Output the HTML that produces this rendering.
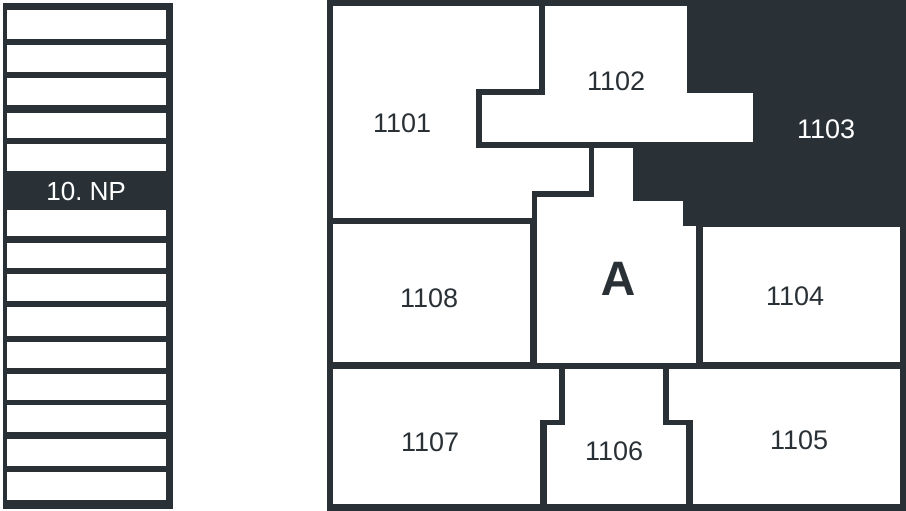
<!DOCTYPE html>
<html><head><style>
html,body{margin:0;padding:0;background:#fff;}
svg{display:block;}
text{font-family:"Liberation Sans",sans-serif;font-size:27px;text-anchor:middle;fill:#2a3136;}
</style></head><body>
<svg width="906" height="511" viewBox="0 0 906 511" xmlns="http://www.w3.org/2000/svg">
<rect x="3" y="3" width="170" height="506" fill="#293136"/>
<g fill="#fff">
<rect x="7" y="10" width="159" height="29"/>
<rect x="7" y="45" width="159" height="27"/>
<rect x="7" y="78" width="159" height="27"/>
<rect x="7" y="113" width="159" height="25"/>
<rect x="7" y="144" width="159" height="27"/>
<rect x="7" y="210" width="159" height="26"/>
<rect x="7" y="243" width="159" height="25"/>
<rect x="7" y="274" width="159" height="27"/>
<rect x="7" y="307" width="159" height="29"/>
<rect x="7" y="342" width="159" height="26"/>
<rect x="7" y="374" width="159" height="26"/>
<rect x="7" y="405" width="159" height="27"/>
<rect x="7" y="439" width="159" height="27"/>
<rect x="7" y="472" width="159" height="28"/>
</g>
<text x="86" y="200" style="fill:#fff;font-size:26px">10. NP</text>

<rect x="327" y="0" width="579" height="511" fill="#293136"/>
<g fill="#fff">
<polygon points="333,6 539,6 539,89 476,89 476,148 589,148 589,191 532,191 532,218 333,218"/>
<polygon points="545,6 687,6 687,93 753,93 753,142 482,142 482,95 545,95"/>
<polygon points="594,148 633,148 633,201 683,201 683,226 696,226 696,363 537,363 537,197 594,197"/>
<rect x="333" y="224" width="197" height="138"/>
<rect x="703" y="227" width="197" height="135"/>
<polygon points="333,369 559,369 559,420 540,420 540,504 333,504"/>
<polygon points="565,369 663,369 663,425 686,425 686,504 547,504 547,425 565,425"/>
<polygon points="669,369 900,369 900,504 693,504 693,420 669,420"/>
</g>
<text x="402" y="132">1101</text>
<text x="616" y="90">1102</text>
<text x="826" y="138" style="fill:#fff">1103</text>
<text x="429" y="307">1108</text>
<text x="618" y="295" style="font-weight:bold;font-size:48px">A</text>
<text x="795" y="305">1104</text>
<text x="430" y="451">1107</text>
<text x="614" y="460">1106</text>
<text x="799" y="449">1105</text>
</svg>
</body></html>
